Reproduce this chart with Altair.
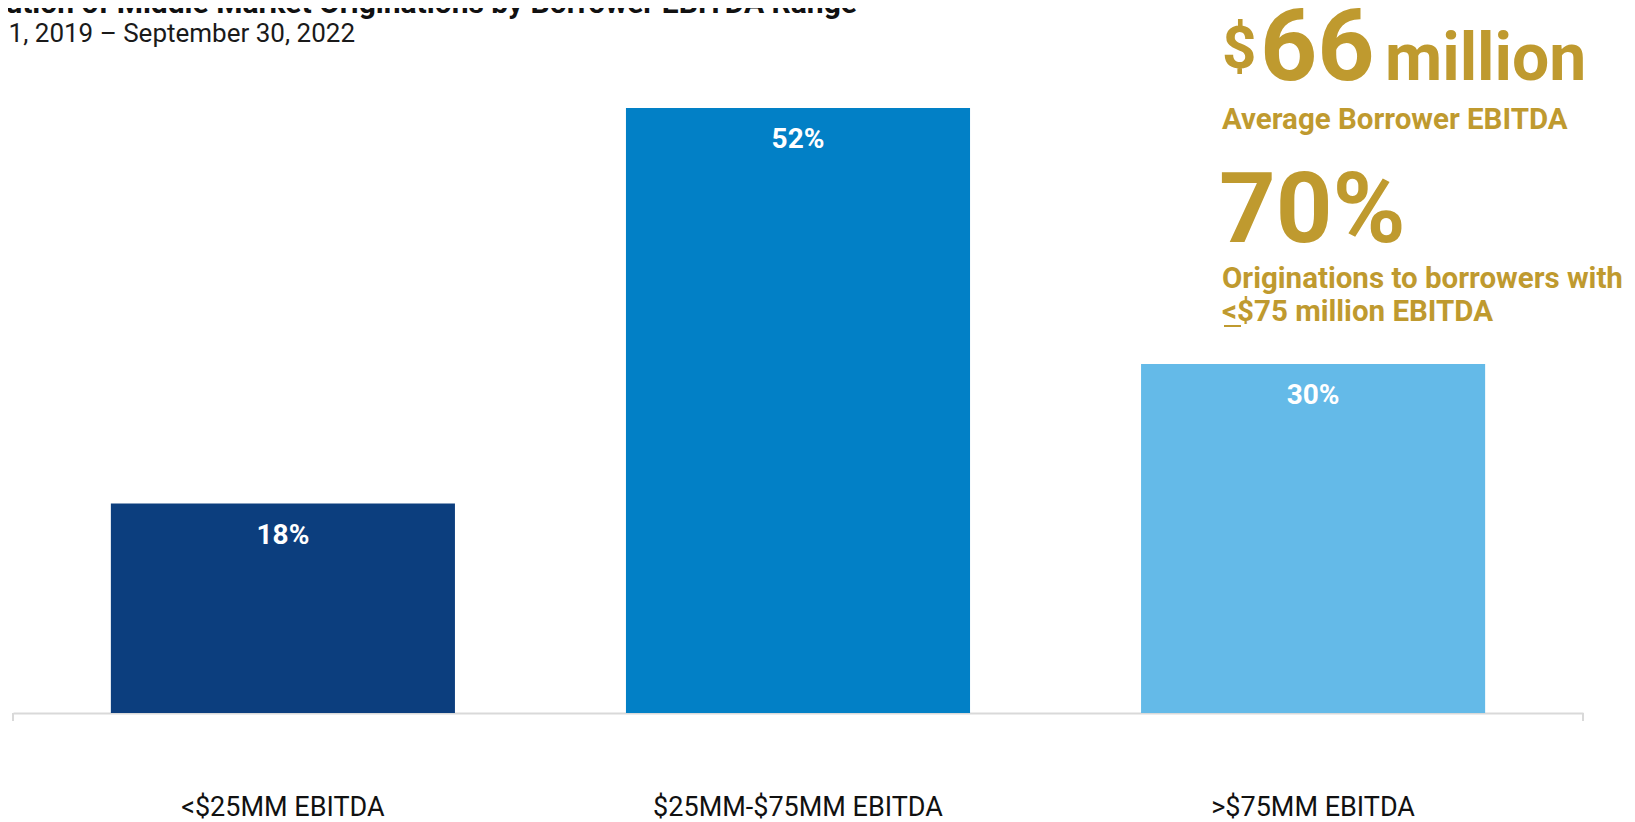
import altair as alt
import pandas as pd

# ---- data ----
categories = ["<$25MM EBITDA", "$25MM-$75MM EBITDA", ">$75MM EBITDA"]
shares = [18, 52, 30]
share_labels = ["18%", "52%", "30%"]
bar_colors = ["#0C3E7E", "#0280C6", "#64BAE8"]

title_text = "Distribution of Middle Market Originations by Borrower EBITDA Range"
subtitle_text = "January 1, 2019 \u2013 September 30, 2022"
stat1_currency = "$"
stat1_value = "66"
stat1_unit = "million"
stat1_caption = "Average Borrower EBITDA"
stat2_value = "70%"
stat2_caption_1 = "Originations to borrowers with"
stat2_caption_2 = "<$75 million EBITDA"

df = pd.DataFrame({"cat": categories, "share": shares, "label": share_labels})
one = pd.DataFrame({"k": [0]})

W, H = 1570, 605
GOLD = "#BF9A2F"
FONT = "Roboto"

x_enc = alt.X(
    "cat:N",
    sort=categories,
    scale=alt.Scale(paddingInner=0.332, paddingOuter=0.19),
    axis=alt.Axis(
        title=None,
        labelAngle=0,
        labelFont=FONT,
        labelFontSize=27,
        labelColor="#111111",
        labelBaseline="alphabetic",
        labelPadding=102,
        labelLimit=0,
        ticks=False,
        tickSize=0,
        domainColor="#D9D9D9",
        domainWidth=2,
        grid=False,
    ),
)
y_enc = alt.Y("share:Q", scale=alt.Scale(domain=[0, 52], nice=False, zero=True), axis=None)

base = alt.Chart(df)

bars = base.mark_bar().encode(
    x=x_enc,
    y=y_enc,
    color=alt.Color("cat:N", scale=alt.Scale(domain=categories, range=bar_colors), legend=None),
)

bar_text = base.mark_text(
    font=FONT, fontWeight="bold", fontSize=28, color="white", baseline="alphabetic", dy=40
).encode(x=alt.X("cat:N", sort=categories), y="share:Q", text="label:N")

ann = alt.Chart(one)

def txt(text, x, y, size, weight="bold", color=GOLD, align="left", font=FONT):
    return ann.mark_text(
        text=text, font=font, fontSize=size, fontWeight=weight, color=color,
        align=align, baseline="alphabetic"
    ).encode(x=alt.value(x), y=alt.value(y))

title = txt(title_text, 844, -95, 30, "bold", "#111111", "right")
subtitle = txt(subtitle_text, 342, -66, 26, "normal", "#1A1A1A", "right")

s1a = txt(stat1_currency, 1209, -40, 60)
s1b = txt(stat1_value, 1247, -28, 100)
s1c = txt(stat1_unit, 1372, -28, 66)
s1d = txt(stat1_caption, 1209, 21, 29.5)
s2a = txt(stat2_value, 1206, 134, 99)
s2b = txt(stat2_caption_1, 1209, 180, 29.5)
s2c = txt(stat2_caption_2, 1209, 213, 29.5)

underline = ann.mark_rule(color=GOLD, strokeWidth=2).encode(
    x=alt.value(1211), x2=alt.value(1228), y=alt.value(218)
)

edge_l = ann.mark_rule(color="#D9D9D9", strokeWidth=2).encode(
    x=alt.value(0), y=alt.value(H), y2=alt.value(H + 8)
)
edge_r = ann.mark_rule(color="#D9D9D9", strokeWidth=2).encode(
    x=alt.value(W), y=alt.value(H), y2=alt.value(H + 8)
)

chart = (
    alt.layer(bars, bar_text, edge_l, edge_r, title, subtitle,
              s1a, s1b, s1c, s1d, s2a, s2b, s2c, underline)
    .properties(
        width=W,
        height=H,
        autosize=alt.AutoSizeParams(type="none"),
        padding={"left": 5, "top": 100, "right": 44, "bottom": 109},
        background="white",
    )
    .configure_view(stroke=None)
)

chart.save("out.html", embed_options={"renderer": "svg", "actions": False})
